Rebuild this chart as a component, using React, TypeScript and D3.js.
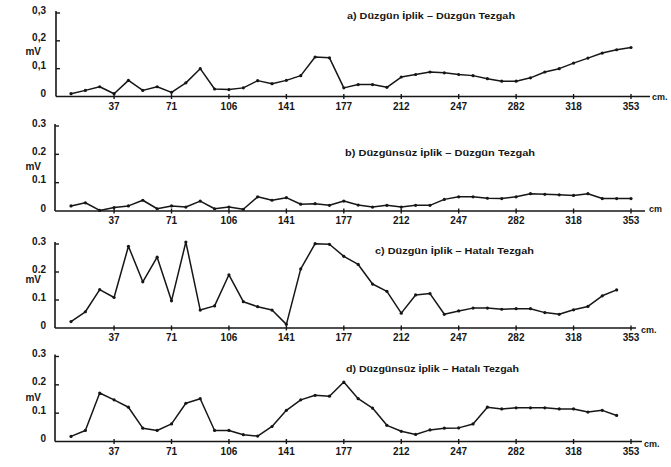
import React from "react";
import * as d3 from "d3";

// Sample index positions: evenly spaced readings along the fabric length
const TICK_LABELS = [37, 71, 106, 141, 177, 212, 247, 282, 318, 353];
const TICK_FIRST_INDEX = 3; // sample index at which tick "37" sits
const TICK_EVERY = 4; // samples between consecutive labelled ticks
const Y_TICKS = [0, 0.1, 0.2, 0.3];

const titleA = "a) Düzgün İplik – Düzgün Tezgah";
const titleB = "b) Düzgünsüz İplik – Düzgün Tezgah";
const titleC = "c) Düzgün İplik – Hatalı Tezgah";
const titleD = "d) Düzgünsüz İplik – Hatalı Tezgah";

const valuesA = [0.010, 0.022, 0.035, 0.010, 0.058, 0.022, 0.035, 0.015, 0.049, 0.100,
  0.027, 0.025, 0.031, 0.057, 0.046, 0.058, 0.075, 0.142, 0.139, 0.031,
  0.043, 0.043, 0.033, 0.070, 0.079, 0.088, 0.085, 0.079, 0.075, 0.064,
  0.055, 0.055, 0.067, 0.088, 0.100, 0.120, 0.138, 0.156, 0.168, 0.176];
const valuesB = [0.018, 0.029, 0.002, 0.012, 0.018, 0.038, 0.008, 0.018, 0.014, 0.035,
  0.008, 0.014, 0.006, 0.050, 0.038, 0.047, 0.024, 0.026, 0.020, 0.035,
  0.021, 0.014, 0.020, 0.014, 0.020, 0.020, 0.041, 0.050, 0.050, 0.045,
  0.044, 0.050, 0.061, 0.059, 0.057, 0.055, 0.061, 0.044, 0.044, 0.044];
const valuesC = [0.023, 0.058, 0.137, 0.109, 0.292, 0.165, 0.253, 0.097, 0.307, 0.064,
  0.079, 0.190, 0.094, 0.076, 0.064, 0.013, 0.211, 0.301, 0.299, 0.256,
  0.227, 0.157, 0.131, 0.053, 0.118, 0.123, 0.049, 0.061, 0.071, 0.071,
  0.067, 0.069, 0.069, 0.055, 0.049, 0.065, 0.077, 0.115, 0.136];
const valuesD = [0.018, 0.039, 0.171, 0.147, 0.121, 0.047, 0.039, 0.062, 0.135, 0.151,
  0.039, 0.039, 0.024, 0.019, 0.053, 0.110, 0.147, 0.163, 0.160, 0.210,
  0.151, 0.118, 0.057, 0.036, 0.025, 0.041, 0.047, 0.048, 0.062, 0.121,
  0.115, 0.119, 0.119, 0.119, 0.115, 0.115, 0.104, 0.110, 0.092];

const INK = "#161616";
const FONT = "'Liberation Sans', Arial, sans-serif";

type Panel = {
  title: string;
  values: number[];
  base: number;
  top: number;
  axisX: number;
  axisEnd: number;
  titleX: number;
  titleY: number;
  titleW: number;
  unit: string;
  unitX: number;
  unitDy: number;
  mvY: number;
  comma: boolean;
};

const panels: Panel[] = [
  { title: titleA, values: valuesA, base: 96.5, top: 13, axisX: 56, axisEnd: 650, titleX: 347, titleY: 16, titleW: 168, unit: "cm.", unitX: 652, unitDy: 1, mvY: 52, comma: true },
  { title: titleB, values: valuesB, base: 211, top: 126, axisX: 55, axisEnd: 645, titleX: 345, titleY: 153, titleW: 190, unit: "cm", unitX: 649, unitDy: -1, mvY: 167, comma: false },
  { title: titleC, values: valuesC, base: 328, top: 244, axisX: 55, axisEnd: 636, titleX: 375, titleY: 251, titleW: 159, unit: "cm.", unitX: 641, unitDy: 3, mvY: 280, comma: false },
  { title: titleD, values: valuesD, base: 441.5, top: 356.5, axisX: 55, axisEnd: 642, titleX: 346, titleY: 369, titleW: 173, unit: "cm.", unitX: 644, unitDy: 3, mvY: 398, comma: false },
];

const x = d3.scaleLinear().domain([0, 39]).range([71, 631]);

function PanelView({ p }: { p: Panel }) {
  const y = d3.scaleLinear().domain([0, 0.3]).range([p.base, p.top]);
  const line = d3
    .line<number>()
    .x((_, i) => x(i))
    .y((v) => y(v));
  const fmt = (v: number) => {
    if (v === 0) return "0";
    const s = d3.format(".1f")(v);
    return p.comma ? s.replace(".", ",") : s;
  };
  return (
    <g>
      <line x1={p.axisX} x2={p.axisX} y1={p.top - 2} y2={p.base} stroke={INK} strokeWidth={1.6} />
      <line x1={p.axisX} x2={p.axisEnd} y1={p.base} y2={p.base} stroke={INK} strokeWidth={1.6} />
      {Y_TICKS.filter((t) => t > 0).map((t) => (
        <line key={t} x1={p.axisX} x2={p.axisX + 4} y1={y(t)} y2={y(t)} stroke={INK} strokeWidth={1.4} />
      ))}
      {Y_TICKS.map((t) => (
        <text key={"l" + t} x={46} y={y(t) - 2} textAnchor="end" dominantBaseline="middle" fontSize={10} fontWeight="bold" fill={INK} fontFamily={FONT}>
          {fmt(t)}
        </text>
      ))}
      <text x={41} y={p.mvY} textAnchor="end" dominantBaseline="middle" fontSize={10} fontWeight="bold" fill={INK} fontFamily={FONT}>
        mV
      </text>
      {TICK_LABELS.map((lab, k) => {
        const xi = x(TICK_FIRST_INDEX + k * TICK_EVERY);
        return (
          <g key={lab}>
            <line x1={xi} x2={xi} y1={p.base - 2.5} y2={p.base + 2.5} stroke={INK} strokeWidth={1.4} />
            <text x={xi} y={p.base + 13} textAnchor="middle" fontSize={10} fontWeight="bold" fill={INK} fontFamily={FONT}>
              {lab}
            </text>
          </g>
        );
      })}
      <text x={p.unitX} y={p.base + p.unitDy} dominantBaseline="middle" fontSize={9} fontWeight="bold" fill={INK} fontFamily={FONT}>
        {p.unit}
      </text>
      <text x={p.titleX} y={p.titleY} dominantBaseline="middle" fontSize={9.5} fontWeight="bold" fill={INK} fontFamily={FONT} textLength={p.titleW} lengthAdjust="spacingAndGlyphs">
        {p.title}
      </text>
      <path d={line(p.values) || ""} fill="none" stroke={INK} strokeWidth={1.5} strokeLinejoin="round" />
      {p.values.map((v, i) => (
        <circle key={i} cx={x(i)} cy={y(v)} r={1.6} fill={INK} />
      ))}
    </g>
  );
}

export default function App() {
  return (
    <svg width={671} height={467} style={{ position: "absolute", left: 0, top: 0, background: "#fff" }}>
      <rect width={671} height={467} fill="#fff" />
      {panels.map((p, i) => (
        <PanelView key={i} p={p} />
      ))}
    </svg>
  );
}
